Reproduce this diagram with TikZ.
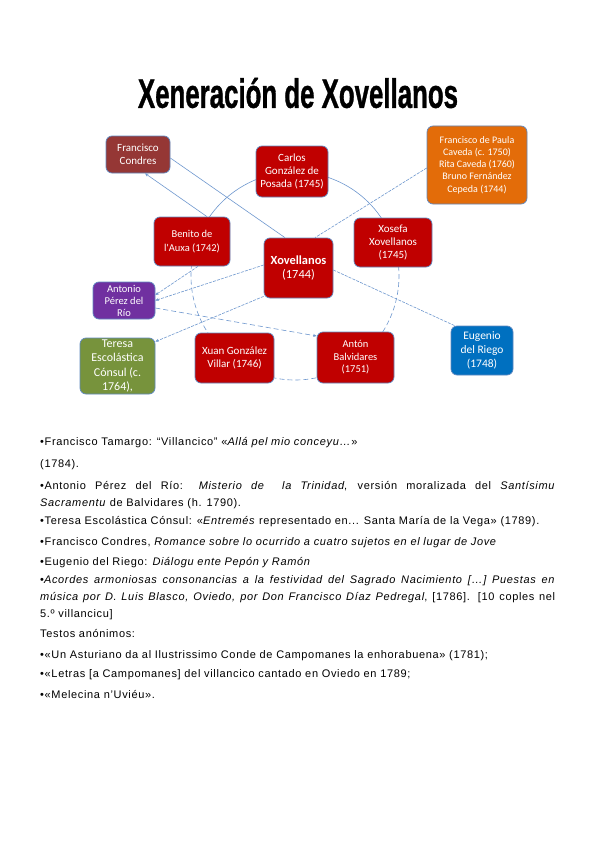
\documentclass[tikz,border=0pt]{standalone}
\usepackage{fontspec}
\setmainfont{Liberation Sans}[LetterSpace=6]
\newfontfamily\carl{Carlito}
\newfontfamily\titlefont{Liberation Sans}[FakeBold=1.2]
\usetikzlibrary{arrows.meta}
\definecolor{boxred}{HTML}{C00000}
\definecolor{boxbrown}{HTML}{953735}
\definecolor{boxorange}{HTML}{E36C09}
\definecolor{boxpurple}{HTML}{7030A0}
\definecolor{boxgreen}{HTML}{77933C}
\definecolor{boxblue}{HTML}{0070C0}
\definecolor{edgeblue}{HTML}{6F98CF}
\definecolor{frameblue}{HTML}{5F88C0}
\tikzset{
  nbox/.style={draw=frameblue, line width=0.7pt, rounded corners=6pt, text=white,
    align=center, inner sep=0pt, font=\carl\fontsize{11}{12.8}\selectfont},
  conn/.style={draw=edgeblue, line width=0.6pt},
  fine/.style={dash pattern=on 3pt off 1.2pt},
  dsh/.style={dash pattern=on 5pt off 3pt},
  arr/.style={-{Stealth[length=3.5pt,width=3pt]}},
  bodyline/.style={anchor=base west, inner sep=0pt, font=\fontsize{11}{12}\selectfont},
}
\begin{document}
\begin{tikzpicture}[x=1pt,y=1pt]
\useasboundingbox (0,0) rectangle (600,-848);
\fill[white] (0,0) rectangle (600,-848);

% title
\node[inner sep=0pt] (title) at (298,-93) {\resizebox{320pt}{30pt}{\titlefont\bfseries Xeneración de Xovellanos}};

% cycle circle
\coordinate (cc) at (295,-276);
\draw[conn] (cc) ++(20:104) arc[start angle=20, end angle=160, radius=104];
\draw[conn,dsh] (cc) ++(160:104) arc[start angle=160, end angle=380, radius=104];

% nodes
\node[nbox, fill=boxbrown, minimum width=64pt, minimum height=37pt,
  font=\carl\fontsize{11}{13.5}\selectfont] (cond) at (138,-154.5) {Francisco\\Condres};
\node[nbox, fill=boxred, minimum width=72pt, minimum height=51pt] (carlos) at (292,-171.5) {Carlos\\González de\\Posada (1745)};
\node[nbox, fill=boxorange, minimum width=100pt, minimum height=78pt,
  font=\carl\fontsize{10}{12.2}\selectfont] (paula) at (477,-165) {Francisco de Paula\\Caveda (c. 1750)\\Rita Caveda (1760)\\Bruno Fernández\\Cepeda (1744)};
\node[nbox, fill=boxred, minimum width=76pt, minimum height=49pt,
  font=\carl\fontsize{10.5}{13.5}\selectfont] (benito) at (192,-241.5) {Benito de\\l'Auxa (1742)};
\node[nbox, fill=boxred, minimum width=69pt, minimum height=60pt,
  font=\carl\fontsize{12.4}{14.5}\selectfont] (xov) at (298.5,-268) {\textbf{Xovellanos}\\(1744)};
\node[nbox, fill=boxred, minimum width=78pt, minimum height=49pt] (xosefa) at (393,-242.5) {Xosefa\\Xovellanos\\(1745)};
\node[nbox, fill=boxpurple, minimum width=62pt, minimum height=37pt,
  font=\carl\fontsize{10.5}{12}\selectfont] (antonio) at (124,-300.5) {Antonio\\Pérez del\\Río};
\node[nbox, fill=boxgreen, minimum width=75pt, minimum height=56pt,
  font=\carl\fontsize{12}{14.3}\selectfont] (teresa) at (117.5,-366) {Teresa\\Escolástica\\Cónsul (c.\\1764),};
\node[nbox, fill=boxred, minimum width=79pt, minimum height=50pt,
  font=\carl\fontsize{11}{13.5}\selectfont] (xuan) at (234.5,-358) {Xuan González\\Villar (1746)};
\node[nbox, fill=boxred, minimum width=77pt, minimum height=51pt,
  font=\carl\fontsize{10.5}{12.5}\selectfont] (anton) at (355.5,-357.5) {Antón\\Balvidares\\(1751)};
\node[nbox, fill=boxblue, minimum width=62pt, minimum height=49pt,
  font=\carl\fontsize{11.5}{13.8}\selectfont] (eugenio) at (482,-350.5) {Eugenio\\del Riego\\(1748)};

% connectors
\draw[conn] ([yshift=-3.5pt]cond.east) -- ([xshift=-13.5pt]xov.north);
\draw[conn,arr] ([xshift=15pt]benito.north) -- ([xshift=7pt]cond.south);
\draw[conn,fine] ([yshift=-3pt]paula.west) -- ([xshift=16.5pt]xov.north);
\draw[conn,fine] ([yshift=-2pt]xov.east) -- ([xshift=4pt]eugenio.north west);
\draw[conn,fine,arr] ([xshift=6pt]benito.south) -- ([yshift=5.5pt]antonio.east);
\draw[conn,fine,arr] ([yshift=3pt]xov.west) -- (antonio.east);
\draw[conn,dsh,arr] ([yshift=-7.5pt]antonio.east) -- ([yshift=21.5pt]anton.west);
\draw[conn,fine,arr] ([yshift=2pt]xov.south west) -- ([yshift=-4pt]teresa.north east);

% body text
\node[bodyline] (l1) at (40,-445) {•Francisco Tamargo: “Villancico” «\textit{Allá pel mio conceyu…}»};
\node[bodyline] (l2) at (40,-467) {(1784).};
\node[bodyline] (l3) at (40,-489) {\makebox[515pt][s]{•Antonio Pérez del Río: \textit{Misterio de\ \ la Trinidad}, versión moralizada del \textit{Santísimu}}};
\node[bodyline] (l4) at (40,-506) {\textit{Sacramentu} de Balvidares (h. 1790).};
\node[bodyline] (l5) at (40,-524) {•Teresa Escolástica Cónsul: «\textit{Entremés} representado en... Santa María de la Vega» (1789).};
\node[bodyline] (l6) at (40,-545) {•Francisco Condres, \textit{Romance sobre lo ocurrido a cuatro sujetos en el lugar de Jove}};
\node[bodyline] (l7) at (40,-565) {•Eugenio del Riego: \textit{Diálogu ente Pepón y Ramón}};
\node[bodyline] (l8) at (40,-583) {\makebox[515pt][s]{•\textit{Acordes armoniosas consonancias a la festividad del Sagrado Nacimiento […] Puestas en}}};
\node[bodyline] (l9) at (40,-600) {\makebox[515pt][s]{\textit{música por D. Luis Blasco, Oviedo, por Don Francisco Díaz Pedregal}, [1786]. [10 coples nel}};
\node[bodyline] (l10) at (40,-617) {5.º villancicu]};
\node[bodyline] (l11) at (40,-637) {Testos anónimos:};
\node[bodyline] (l12) at (40,-658) {•«Un Asturiano da al Ilustrissimo Conde de Campomanes la enhorabuena» (1781);};
\node[bodyline] (l13) at (40,-677) {•«Letras [a Campomanes] del villancico cantado en Oviedo en 1789;};
\node[bodyline] (l14) at (40,-698) {•«Melecina n'Uviéu».};
\end{tikzpicture}
\end{document}
